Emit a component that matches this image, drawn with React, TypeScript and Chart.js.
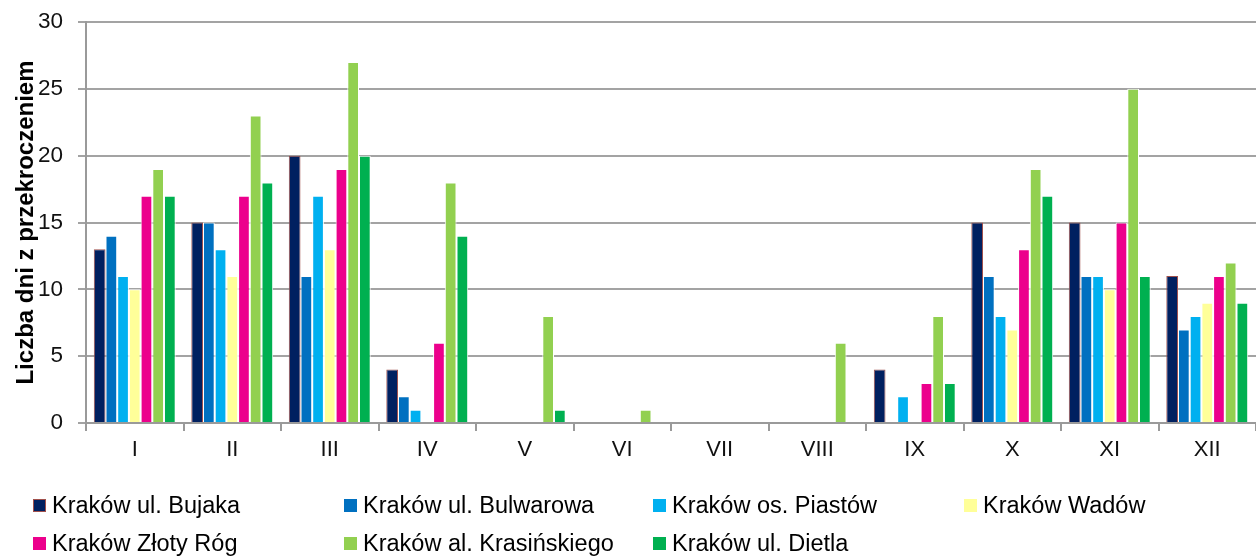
import React, { useEffect, useRef } from "react";
import { Chart, registerables } from "chart.js";

Chart.register(...registerables);

const categories = ["I", "II", "III", "IV", "V", "VI", "VII", "VIII", "IX", "X", "XI", "XII"];
const seriesNames = [
  "Kraków ul. Bujaka",
  "Kraków ul. Bulwarowa",
  "Kraków os. Piastów",
  "Kraków Wadów",
  "Kraków Złoty Róg",
  "Kraków al. Krasińskiego",
  "Kraków ul. Dietla",
];
const bujaka = [13, 15, 20, 4, 0, 0, 0, 0, 4, 15, 15, 11];
const bulwarowa = [14, 15, 11, 2, 0, 0, 0, 0, 0, 11, 11, 7];
const piastow = [11, 13, 17, 1, 0, 0, 0, 0, 2, 8, 11, 8];
const wadow = [10, 11, 13, 0, 0, 0, 0, 0, 0, 7, 10, 9];
const zlotyRog = [17, 17, 19, 6, 0, 0, 0, 0, 3, 13, 15, 11];
const krasinskiego = [19, 23, 27, 18, 8, 1, 0, 6, 8, 19, 25, 12];
const dietla = [17, 18, 20, 14, 1, 0, 0, 0, 3, 17, 11, 9];
const yTicks = [0, 5, 10, 15, 20, 25, 30];
const yTitle = "Liczba dni z przekroczeniem";

const seriesValues = [bujaka, bulwarowa, piastow, wadow, zlotyRog, krasinskiego, dietla];
const fillColors = ["#002060", "#0070C0", "#00B0F0", "#FFFF99", "#EC008C", "#92D050", "#00B050"];
const borderColors = ["#A0504C", "#FFFFFF", "#FFFFFF", "#FFFFFF", "#FFFFFF", "#FFFFFF", "#FFFFFF"];

const FONT = "'Liberation Sans', Arial, sans-serif";
const W = 1256;
const H = 557;

export default function App() {
  const canvasRef = useRef<HTMLCanvasElement | null>(null);

  useEffect(() => {
    document.body.style.margin = "0";
    const canvas = canvasRef.current;
    if (!canvas) return;
    const chart = new Chart(canvas, {
      type: "bar",
      data: {
        labels: categories,
        datasets: seriesNames.map((name, i) => ({
          label: name,
          data: seriesValues[i],
          backgroundColor: fillColors[i],
          borderColor: borderColors[i],
          borderWidth: 1,
          categoryPercentage: 0.84,
          barPercentage: 1,
        })),
      },
      options: {
        responsive: false,
        animation: false,
        layout: { padding: { top: 22, left: 0, right: 0, bottom: 0 } },
        plugins: {
          legend: { display: false },
          tooltip: { enabled: false },
        },
        scales: {
          x: {
            afterFit: (scale: any) => {
              scale.height = 134;
            },
            grid: {
              offset: true,
              drawOnChartArea: false,
              drawTicks: true,
              tickLength: 8,
              color: "#9a9a9a",
              lineWidth: 2,
            },
            border: { color: "#9a9a9a", width: 2 },
            ticks: {
              color: "#111",
              font: { family: FONT, size: 22 },
              padding: 6,
            },
          },
          y: {
            min: 0,
            max: 30,
            afterFit: (scale: any) => {
              scale.width = 86;
              scale.paddingTop = 0;
              scale.paddingBottom = 0;
            },
            afterBuildTicks: (scale: any) => {
              scale.ticks = yTicks.map((v) => ({ value: v }));
            },
            grid: {
              color: "#a3a3a3",
              lineWidth: 2,
              drawTicks: true,
              tickLength: 8,
            },
            border: { color: "#9a9a9a", width: 2 },
            ticks: {
              color: "#111",
              font: { family: FONT, size: 22.5 },
              padding: 15,
            },
            title: {
              display: true,
              text: yTitle,
              color: "#000",
              font: { family: FONT, size: 24, weight: "bold" },
              padding: { top: 12, bottom: 0 },
            },
          },
        },
      },
    });
    return () => chart.destroy();
  }, []);

  const cols = [33, 344, 653, 964];
  const rows = [505, 543];

  return (
    <div style={{ position: "relative", width: W, height: H, fontFamily: FONT, background: "#fff" }}>
      <canvas ref={canvasRef} width={W} height={H} style={{ display: "block" }} />
      {seriesNames.map((name, i) => {
        const col = cols[i % 4];
        const row = rows[Math.floor(i / 4)];
        return (
          <div
            key={name}
            style={{
              position: "absolute",
              left: col,
              top: row - 14,
              height: 28,
              display: "flex",
              alignItems: "center",
              whiteSpace: "nowrap",
              fontSize: 23.5,
              color: "#000",
              lineHeight: "28px",
            }}
          >
            <span
              style={{
                display: "inline-block",
                width: i === 0 ? 11 : 13,
                height: i === 0 ? 11 : 13,
                background: fillColors[i],
                border: i === 0 ? `1px solid ${borderColors[0]}` : "none",
                marginRight: 6,
              }}
            />
            <span>{name}</span>
          </div>
        );
      })}
    </div>
  );
}
